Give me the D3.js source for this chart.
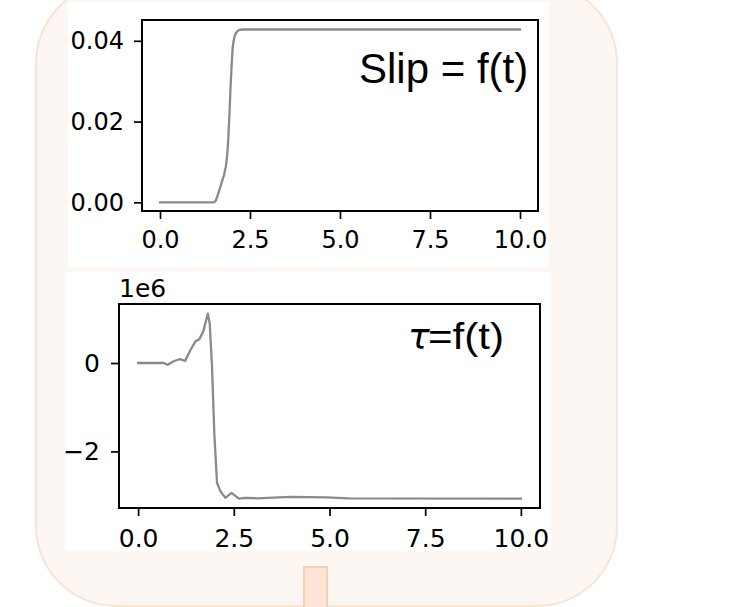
<!DOCTYPE html>
<html>
<head>
<meta charset="utf-8">
<script src="https://cdn.jsdelivr.net/npm/d3@7"></script>
<style>
  html, body { margin: 0; padding: 0; background: #ffffff; }
  svg { display: block; }
</style>
</head>
<body>
<svg id="chart" width="752" height="607"></svg>
<script>
// ---- data ----
const slipT = [0, 1.5, 1.55, 1.65, 1.71, 1.78, 1.83, 1.87, 1.90, 1.93, 1.96, 1.99, 2.02, 2.05, 2.08, 2.13, 2.2, 2.3, 10];
const slipV = [0, 0, 0.0004, 0.003, 0.0048, 0.0068, 0.0089, 0.012, 0.0163, 0.022, 0.0286, 0.034, 0.0385, 0.0402, 0.0414, 0.0422, 0.0427, 0.0428, 0.0428];

const tauT = [0, 0.67, 0.77, 0.93, 1.09, 1.23, 1.37, 1.50, 1.60, 1.70, 1.82, 1.87, 1.93, 1.99, 2.06, 2.15, 2.28, 2.44, 2.63, 2.8, 3.1, 3.98, 4.93, 5.5, 10];
const tauV = [0, 0, -0.04, 0.04, 0.09, 0.05, 0.30, 0.49, 0.54, 0.71, 1.115, 0.90, -0.08, -1.58, -2.71, -2.90, -3.05, -2.94, -3.07, -3.05, -3.06, -3.03, -3.04, -3.06, -3.07];

const xTicks = [0, 2.5, 5, 7.5, 10];
const xTickLabels = ["0.0", "2.5", "5.0", "7.5", "10.0"];
const slipYTicks = [0, 0.02, 0.04];
const slipYTickLabels = ["0.00", "0.02", "0.04"];
const tauYTicks = [-2, 0];
const tauYTickLabels = ["\u22122", "0"];
const tauOffsetLabel = "1e6";
const slipTitle = "Slip = f(t)";
const tauTitleSym = "\u03C4";
const tauTitleRest = "=f(t)";

// ---- drawing ----
const svg = d3.select("#chart");

// background rounded panel
svg.append("rect")
  .attr("x", 36).attr("y", -17).attr("width", 581).attr("height", 623)
  .attr("rx", 80).attr("ry", 80)
  .attr("fill", "#fdf7f4").attr("stroke", "#fbe3d4").attr("stroke-width", 2);

// small connector box
svg.append("rect")
  .attr("x", 304).attr("y", 567).attr("width", 23).attr("height", 50)
  .attr("fill", "#fce6d9").attr("stroke", "#f8cfb3").attr("stroke-width", 2);

// white figure boxes
svg.append("rect").attr("x", 68).attr("y", 2).attr("width", 481).attr("height", 265).attr("fill", "#ffffff");
svg.append("rect").attr("x", 65).attr("y", 272).attr("width", 486).attr("height", 279).attr("fill", "#ffffff");

const tickFont = "DejaVu Sans, sans-serif";

function drawPanel(cfg) {
  const g = svg.append("g");
  const x = d3.scaleLinear().domain([-0.5, 10.5]).range([cfg.left, cfg.right]);
  const y = d3.scaleLinear().domain(cfg.yDomain).range([cfg.bottom, cfg.top]);

  const line = d3.line().x(d => x(d[0])).y(d => y(d[1]));
  const pts = cfg.t.map((t, i) => [t, cfg.v[i]]);
  g.append("path").datum(pts)
    .attr("d", line)
    .attr("fill", "none")
    .attr("stroke", "#8a8a8a")
    .attr("stroke-width", 2.3)
    .attr("stroke-linejoin", "round")
    .attr("stroke-linecap", "square");

  // x axis
  const xAxis = d3.axisBottom(x).tickValues(xTicks)
    .tickFormat((d, i) => xTickLabels[i])
    .tickSize(8).tickPadding(cfg.xPad).tickSizeOuter(0);
  const gx = g.append("g").attr("transform", `translate(0,${cfg.bottom})`).call(xAxis);
  gx.select(".domain").remove();
  gx.selectAll(".tick line").attr("stroke", "#000").attr("stroke-width", 1.7);
  gx.selectAll(".tick text").attr("font-family", tickFont).attr("font-size", cfg.fs).attr("fill", "#000");

  // y axis
  const yAxis = d3.axisLeft(y).tickValues(cfg.yTicks)
    .tickFormat((d, i) => cfg.yLabels[i])
    .tickSize(8).tickPadding(cfg.yPad).tickSizeOuter(0);
  const gy = g.append("g").attr("transform", `translate(${cfg.left},0)`).call(yAxis);
  gy.select(".domain").remove();
  gy.selectAll(".tick line").attr("stroke", "#000").attr("stroke-width", 1.7);
  gy.selectAll(".tick text").attr("font-family", tickFont).attr("font-size", cfg.fs).attr("fill", "#000");

  // frame
  g.append("rect")
    .attr("x", cfg.left).attr("y", cfg.top)
    .attr("width", cfg.right - cfg.left).attr("height", cfg.bottom - cfg.top)
    .attr("fill", "none").attr("stroke", "#000").attr("stroke-width", 2);
  return { g, x, y };
}

drawPanel({
  left: 142, right: 538, top: 20, bottom: 211,
  yDomain: [-0.00215, 0.04515],
  t: slipT, v: slipV,
  yTicks: slipYTicks, yLabels: slipYTickLabels, fs: 24, xPad: 12, yPad: 10
});

svg.append("text")
  .attr("x", 359).attr("y", 83)
  .attr("font-family", "Liberation Sans, Arial, sans-serif")
  .attr("font-size", 42).attr("fill", "#000")
  .text(slipTitle);

drawPanel({
  left: 119, right: 540, top: 304, bottom: 508,
  yDomain: [-3.28, 1.335],
  t: tauT, v: tauV,
  yTicks: tauYTicks, yLabels: tauYTickLabels, fs: 25, xPad: 13, yPad: 11
});

svg.append("text")
  .attr("x", 119).attr("y", 297)
  .attr("font-family", tickFont).attr("font-size", 25).attr("fill", "#000")
  .text(tauOffsetLabel);

svg.append("text")
  .attr("x", 408).attr("y", 349)
  .attr("font-family", "DejaVu Sans, sans-serif").attr("font-style", "italic")
  .attr("font-size", 36).attr("fill", "#000")
  .text(tauTitleSym);

svg.append("text")
  .attr("x", 428).attr("y", 349)
  .attr("font-family", "Liberation Sans, Arial, sans-serif")
  .attr("font-size", 36).attr("fill", "#000")
  .attr("textLength", 76).attr("lengthAdjust", "spacingAndGlyphs")
  .text(tauTitleRest);
</script>
</body>
</html>
